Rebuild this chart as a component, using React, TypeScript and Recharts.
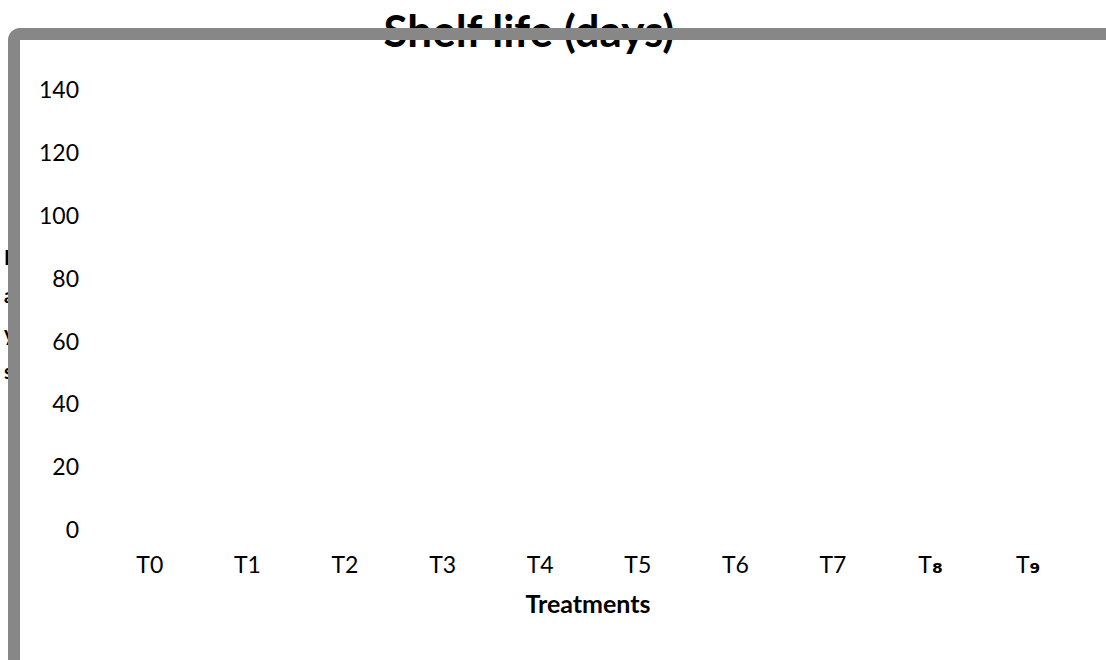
import { BarChart, Bar, XAxis, YAxis, Customized } from "recharts";

const treatments = ["T0", "T1", "T2", "T3", "T4", "T5", "T6", "T7", "T₈", "T₉"];
// no bars are visible in the picture, so every value reads as 0
const shelfLife = [0, 0, 0, 0, 0, 0, 0, 0, 0, 0];
const yTicks = [0, 20, 40, 60, 80, 100, 120, 140];
const yLabelLetters = ["D", "a", "y", "s"];

const data = treatments.map((name, i) => ({ name, days: shelfLife[i] }));

const FONT = "Lato, 'Open Sans', sans-serif";
const FRAME = "#878787";

// subscript digits in Lato are tiny, draw them with DejaVu like the original
function TreatmentTick(props: any) {
  const { x, y, payload } = props;
  const label: string = payload.value;
  const parts = label.split(/([₀-₉])/).filter(Boolean);
  return (
    <text x={x} y={y} dy="0.71em" textAnchor="middle" fontFamily={FONT} fontSize={23} fill="#000">
      {parts.map((p, i) =>
        /[₀-₉]/.test(p) ? (
          <tspan key={i} fontFamily="'DejaVu Sans'" fontWeight={700} fontSize={25}>
            {p}
          </tspan>
        ) : (
          <tspan key={i}>{p}</tspan>
        )
      )}
    </text>
  );
}

function Frame() {
  return (
    <g>
      <text x={529} y={47} textAnchor="middle" fontFamily={FONT} fontWeight={700} fontSize={44} fill="#000">
        Shelf life (days)
      </text>
      {yLabelLetters.map((ch, i) => (
        <text key={i} x={4} y={265 + i * 38} fontFamily={FONT} fontWeight={700} fontSize={20} fill="#000">
          {ch}
        </text>
      ))}
      <text x={588} y={613} textAnchor="middle" fontFamily={FONT} fontWeight={700} fontSize={25} fill="#000">
        Treatments
      </text>
      <rect x={14} y={34} width={1200} height={800} rx={6} fill="none" stroke={FRAME} strokeWidth={12} />
    </g>
  );
}

export default function App() {
  return (
    <div style={{ position: "absolute", left: 0, top: 0, width: 1106, height: 660, background: "#fff" }}>
      <BarChart
        width={1106}
        height={660}
        data={data}
        margin={{ top: 90, right: 29, bottom: 100, left: 0 }}
        barCategoryGap="40%"
      >
        <XAxis
          dataKey="name"
          axisLine={false}
          tickLine={false}
          tickMargin={21}
          height={30}
          interval={0}
          tick={<TreatmentTick />}
        />
        <YAxis
          domain={[0, 140]}
          ticks={yTicks}
          axisLine={false}
          tickLine={false}
          tickMargin={16}
          width={101}
          tick={{ fontSize: 23, fontFamily: FONT, fill: "#000" }}
        />
        <Bar dataKey="days" fill="#4472c4" isAnimationActive={false} />
        <Customized component={Frame} />
      </BarChart>
    </div>
  );
}
